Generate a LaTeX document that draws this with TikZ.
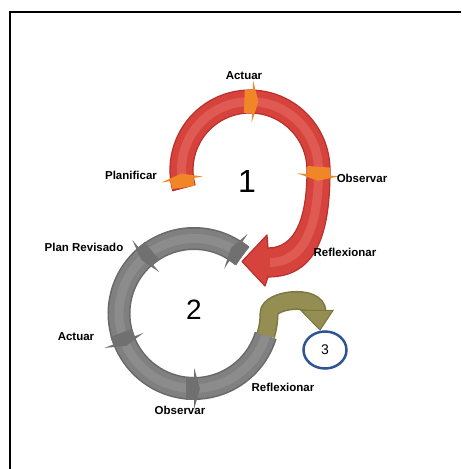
\documentclass[tikz,border=0pt]{standalone}
\usepackage{fontspec}
\setmainfont{Liberation Sans}
\usetikzlibrary{shapes.geometric}
\definecolor{redband}{RGB}{214,66,60}
\definecolor{redlight}{RGB}{224,90,84}
\definecolor{rededge}{RGB}{185,48,44}
\definecolor{greyband}{RGB}{128,128,128}
\definecolor{greylight}{RGB}{140,140,140}
\definecolor{greyedge}{RGB}{104,104,104}
\definecolor{greymark}{RGB}{112,112,112}
\definecolor{orangemark}{RGB}{240,134,38}
\definecolor{oliveband}{RGB}{148,142,82}
\definecolor{oliveedge}{RGB}{124,118,64}
\definecolor{bluering}{RGB}{47,84,150}
\tikzset{
  lbl/.style={font=\fontsize{11.5}{13}\selectfont\bfseries, inner sep=0pt},
  bignum/.style={font=\fontsize{32}{36}\selectfont, inner sep=0pt},
  midnum/.style={font=\fontsize{28}{32}\selectfont, inner sep=0pt},
  greytube/.style={draw=greyedge, line width=23pt,
    postaction={draw=greyband, line width=20pt},
    postaction={draw=greylight, line width=9pt}},
  olivetube/.style={draw=oliveedge, line width=19pt,
    postaction={draw=oliveband, line width=16pt}}
}
% marker across a ring: #1,#2 centre, #3 radius, #4 angle, #5 direction (1 ccw, -1 cw), #6 colour
\newcommand{\ringmark}[6]{%
  \begin{scope}[shift={(#1,#2)}, rotate=#4]
    \fill[#6] ({#3-11.5},{-8*#5}) -- ({#3+11.5},{-8*#5}) -- ({#3+11.5},0)
      -- ({#3+21},0) -- (#3,{6*#5}) -- ({#3-21},0) -- ({#3-11.5},0) -- cycle;
  \end{scope}}
\begin{document}
\begin{tikzpicture}[x=1pt,y=1pt]
\useasboundingbox (0,0) rectangle (461,469);
\draw[line width=2pt] (10,0) -- (10,457) -- (461,457);

% ring 2 (grey)
\coordinate (c2) at (194,155.5);
\path[greytube] (c2) ++(50:75) arc[start angle=50, end angle=343, radius=75];
\ringmark{194}{155.5}{75}{56}{1}{greymark}
\ringmark{194}{155.5}{75}{130}{1}{greymark}
\ringmark{194}{155.5}{75}{201}{1}{greymark}
\ringmark{194}{155.5}{75}{270}{1}{greymark}

% olive arrow to 3
\coordinate (oend) at (317,157);
\path[olivetube] (c2) ++(343:75) arc[start angle=343, end angle=360, radius=75]
   .. controls (269,170) and (317,175) .. (oend);
\fill[oliveband, draw=oliveedge, line width=1pt] (301,158.5) -- (333,158.5) -- (320,139) -- cycle;

% ring 1 (red) as a filled band
\coordinate (c1) at (250,299);
\filldraw[fill=redband, draw=rededge, line width=1.2pt, line join=round]
   (c1) ++(195:80) arc[start angle=195, end angle=0, radius=80]
   .. controls (330,238) and (318,192) .. (268,192)
   -- (268,221) .. controls (295,221) and (307,250) .. (307,299)
   arc[start angle=0, end angle=195, radius=57] -- cycle;
\draw[redlight, line width=9pt]
   (c1) ++(195:68.5) arc[start angle=195, end angle=0, radius=68.5]
   .. controls (318.5,246) and (306,207) .. (270,206.5);
\filldraw[fill=redband, draw=rededge, line width=1.2pt, line join=round]
   (242,207.5) -- (267,234) -- (268,221) -- (268,192) -- (265,183) -- cycle;
\fill[redband] (266,193) rectangle (270,220);
\ringmark{250}{299}{68.5}{188}{-1}{orangemark}
\ringmark{250}{299}{68.5}{88}{-1}{orangemark}
\ringmark{250}{299}{68.5}{356}{-1}{orangemark}

% labels
\node[lbl] (actuar1) at (244,393) {Actuar};
\node[lbl] (planificar) at (131,294) {Planificar};
\node[lbl] (observar1) at (362,291) {Observar};
\node[lbl] (reflex1) at (345,217) {Reflexionar};
\node[bignum] (n1) at (247,288) {1};
\node[lbl] (planrev) at (84,222) {Plan Revisado};
\node[midnum] (n2) at (194,159) {2};
\node[lbl] (actuar2) at (76,132) {Actuar};
\node[lbl] (reflex2) at (283,82) {Reflexionar};
\node[lbl] (observar2) at (180,59) {Observar};
\node[draw=bluering, line width=2.5pt, ellipse, inner sep=0pt,
      minimum width=43pt, minimum height=37pt,
      font=\fontsize{14}{16}\selectfont] (n3) at (325,119) {3};
\end{tikzpicture}
\end{document}
